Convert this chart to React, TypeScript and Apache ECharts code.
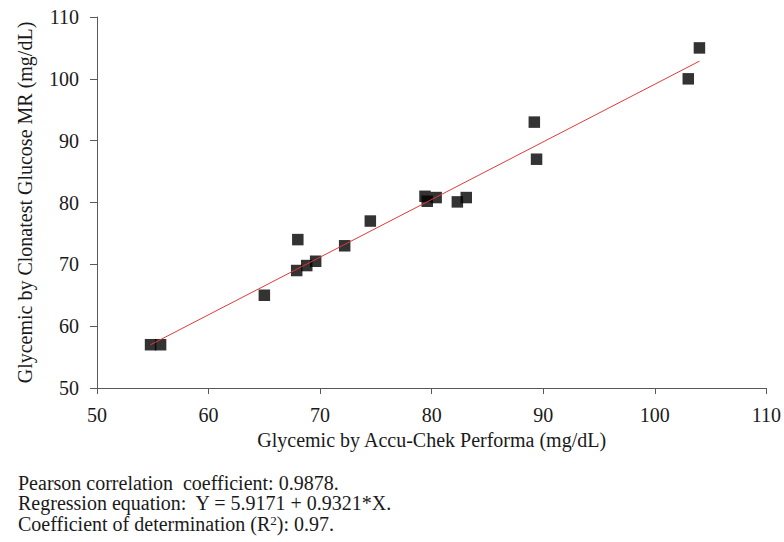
import React, { useEffect, useRef } from "react";
import * as echarts from "echarts";

const accuChek: number[] = [54.8, 55.7, 65, 68, 67.9, 68.8, 69.6, 72.2, 74.5, 79.4, 79.6, 80.4, 82.3, 83.1, 89.2, 89.4, 103, 104];
const clonatest: number[] = [57, 57, 65, 74, 69, 69.8, 70.5, 73, 77, 81, 80.2, 80.8, 80.1, 80.8, 93, 87, 100, 105];
const intercept = 5.9171;
const slope = 0.9321;
const notes: string[] = [
  "Pearson correlation  coefficient: 0.9878.",
  "Regression equation:  Y = 5.9171 + 0.9321*X.",
  "Coefficient of determination (R{sup|2}): 0.97.",
];

const FONT = "Liberation Serif";
const FS = 20;

export default function App() {
  const ref = useRef<HTMLDivElement>(null);
  useEffect(() => {
    if (!ref.current) return;
    const chart = echarts.init(ref.current, undefined, { renderer: "svg" });
    const pts = accuChek.map((x, i) => [x, clonatest[i]]);
    const xMin = Math.min(...accuChek);
    const xMax = Math.max(...accuChek);
    const lineData = [
      [xMin, intercept + slope * xMin],
      [xMax, intercept + slope * xMax],
    ];
    chart.setOption({
      animation: false,
      backgroundColor: "#ffffff",
      textStyle: { fontFamily: FONT },
      grid: { left: 97, right: 17, top: 17, bottom: 154 },
      xAxis: {
        type: "value",
        min: 50,
        max: 110,
        interval: 10,
        name: "Glycemic by Accu-Chek Performa (mg/dL)",
        nameLocation: "middle",
        nameGap: 38,
        nameTextStyle: { fontFamily: FONT, fontSize: FS, color: "#1a1a1a" },
        axisLine: { onZero: false, lineStyle: { color: "#595959", width: 1 } },
        axisTick: { show: true, inside: false, length: 6, lineStyle: { color: "#595959" } },
        axisLabel: { fontFamily: FONT, fontSize: FS, color: "#1a1a1a", margin: 17 },
        splitLine: { show: false },
      },
      yAxis: {
        type: "value",
        min: 50,
        max: 110,
        interval: 10,
        name: "Glycemic by Clonatest Glucose MR (mg/dL)",
        nameLocation: "middle",
        nameGap: 62,
        nameRotate: 90,
        nameTextStyle: { fontFamily: FONT, fontSize: FS, color: "#1a1a1a" },
        axisLine: { show: true, onZero: false, lineStyle: { color: "#595959", width: 1 } },
        axisTick: { show: true, inside: false, length: 7, lineStyle: { color: "#595959" } },
        axisLabel: { fontFamily: FONT, fontSize: FS, color: "#1a1a1a", margin: 18 },
        splitLine: { show: false },
      },
      series: [
        {
          type: "line",
          data: lineData,
          symbol: "none",
          lineStyle: { color: "#e03a3a", width: 1 },
          z: 3,
        },
        {
          type: "scatter",
          data: pts,
          symbol: "rect",
          symbolSize: 11.5,
          itemStyle: { color: "#000000" },
          z: 2,
        },
      ],
      graphic: notes.map((t, i) => ({
        type: "text",
        left: 18,
        top: 472.5 + i * 20.5,
        style: {
          text: t,
          fontFamily: FONT,
          fontSize: FS,
          lineHeight: 20,
          fill: "#1a1a1a",
          rich: {
            sup: { fontFamily: FONT, fontSize: 13, lineHeight: 20, fill: "#1a1a1a", padding: [0, 0, 8, 0] },
          },
        },
      })),
    });
    return () => chart.dispose();
  }, []);
  return <div ref={ref} style={{ position: "fixed", left: 0, top: 0, width: 784, height: 542 }} />;
}
